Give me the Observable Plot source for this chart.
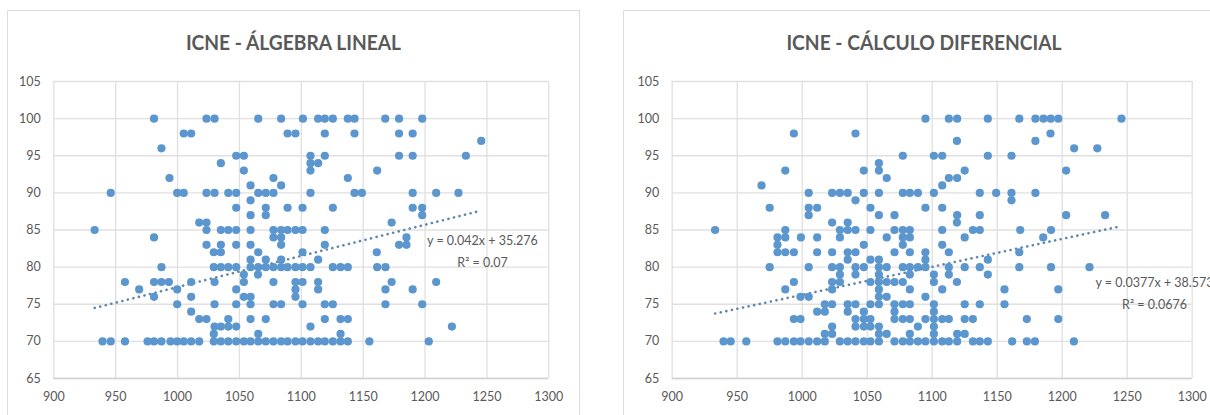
<!DOCTYPE html>
<html lang="es">
<head>
<meta charset="utf-8">
<script src="https://cdn.jsdelivr.net/npm/d3@7"></script>
<script src="https://cdn.jsdelivr.net/npm/@observablehq/plot@0.6"></script>
<style>
html,body{margin:0;padding:0;width:1210px;height:415px;overflow:hidden;background:#fff;}
.card{position:absolute;top:10px;height:420px;box-sizing:border-box;border:1px solid #dcdcdc;background:#fff;}
.card .title{position:absolute;top:18px;left:0;right:0;text-align:center;font:700 21px Lato,sans-serif;color:#595959;white-space:nowrap;transform:scaleX(.915);transform-origin:center;}
.holder{position:absolute;top:0;height:415px;}
.holder svg{display:block;background:transparent;max-width:none !important;}
</style>
</head>
<body>
<div class="card" style="left:7px;width:573px"><div class="title">ICNE - ÁLGEBRA LINEAL</div></div>
<div class="card" style="left:623px;width:602px"><div class="title">ICNE - CÁLCULO DIFERENCIAL</div></div>
<div class="holder" id="a" style="left:0;width:580px"></div>
<div class="holder" id="b" style="left:600px;width:625px"></div>
<script>
const xTicks = [900,950,1000,1050,1100,1150,1200,1250,1300];
const yTicks = [65,70,75,80,85,90,95,100,105];

const algebraRows = [
 [100,[981,1023.4,1029.9,1065.2,1083.7,1101.3,1113.6,1119,1125.5,1137.6,1143,1167.8,1179,1197.7]],
 [98,[1005,1011,1088.9,1095.3,1119,1143,1179,1190]],
 [97,[1245.4]],
 [96,[987]],
 [95,[1047.4,1053.6,1107.4,1119,1179,1190,1233]],
 [94,[1035,1107.4,1113.6]],
 [93,[1053.6,1107.4,1161.3]],
 [92,[993.5,1077.5,1137.6]],
 [91,[1059,1083.7]],
 [90,[946,999.7,1005,1023.4,1029.9,1041,1047.4,1065.2,1071.3,1077.5,1107.4,1143,1149,1190,1209,1227]],
 [89,[1059]],
 [88,[1047.4,1071.3,1088.9,1101,1125.5,1190,1197.7]],
 [87,[1059,1071.3,1197.7]],
 [86,[1017.5,1023.4,1173]],
 [85,[933,1023.4,1035,1041,1047.4,1059,1077.5,1083.7,1088.9,1095.3,1101,1119]],
 [84,[981,1077.5,1083.7,1185]],
 [83,[1023.4,1035,1047.4,1059,1083.7,1119,1179,1185]],
 [82,[1029.3,1035,1065.2,1101,1161]],
 [81,[1059,1071.3,1083.7,1113.6]],
 [80,[987,1029.3,1035,1041,1047.4,1059,1065.2,1071.3,1077.5,1083.7,1088.9,1095.3,1101,1107.4,1125.5,1131.7,1137.6,1161.3,1168]],
 [79,[1053.6,1065]],
 [78,[957.5,981,987,993,1011,1029.9,1053.6,1077.5,1095.3,1101,1113.6,1173,1209]],
 [77,[969,999.7,1047.4,1095.3,1113.6,1168,1190]],
 [76,[981,1011,1053.6,1059,1095.3]],
 [75,[999.7,1029.9,1047.4,1059,1077.5,1083.7,1101,1119,1125.5,1168,1197.7]],
 [74,[1011]],
 [73,[1017.5,1023.4,1041,1059,1071.3,1119,1131.7,1137.6]],
 [72,[1029.9,1035,1041,1047.4,1107.4,1221.7]],
 [71,[1029.3,1065.2,1131.7]],
 [70,[939.4,946,957.5,975.8,981,987,994.3,999.7,1005,1011,1017.5,1029.3,1035,1041,1047.4,1053.6,1059,1065.2,1071.3,1077.5,1083.7,1088.9,1095.3,1101,1107.4,1113.6,1119,1125.5,1131.7,1137.6,1155,1203]]
];

const calculoRows = [
 [100,[1094.8,1112.8,1119.2,1142.8,1167,1179.4,1185.6,1191.2,1197,1245.6]],
 [98,[993.6,1041,1191]],
 [97,[1119,1179.4]],
 [96,[1209.2,1227]],
 [95,[1077.4,1101.3,1107.7,1142.8,1161]],
 [94,[1059]],
 [93,[987,1047.4,1059,1125,1203]],
 [92,[1065,1112.8,1119.2]],
 [91,[968.7,1107.7]],
 [90,[1005,1023,1029,1035,1047.4,1059,1077.4,1082.8,1089,1101.3,1136.6,1149.2,1161,1179.4]],
 [89,[1041,1161]],
 [88,[975,1005,1011.5,1052.5,1094.8,1107.7]],
 [87,[1005,1059,1071,1119.2,1136.6,1203,1233]],
 [86,[1023,1035,1119]],
 [85,[933,987,1029,1035,1041,1052.5,1071,1077.4,1082.8,1107.7,1131.3,1136.6,1167.7,1191.4]],
 [84,[981,987,999,1011.5,1029,1065,1077.4,1082.8,1125,1185.4]],
 [83,[981,1047.4,1077.4,1107.7]],
 [82,[981,987,993.6,1011.5,1023,1035,1041,1071,1082.8,1094.8,1112.8,1167]],
 [81,[1035,1052.5,1059,1094.8,1142.8]],
 [80,[975,1005,1023,1029,1041,1047.4,1059,1065,1077.4,1082.8,1089,1094.8,1112.8,1125,1136.6,1167,1191.4,1221]],
 [79,[1029,1041,1059,1082.8,1101.3,1112.8,1142.8]],
 [78,[993.6,1023,1029,1052.5,1059,1065,1071,1077.4,1101.3,1119]],
 [77,[987,1023,1059,1082.8,1107.7,1155.6,1197]],
 [76,[998.7,1005,1059,1065,1094.8]],
 [75,[1017.4,1023,1035,1041,1052.5,1059,1071,1077.4,1082.8,1101.3,1125,1136.6,1155.6]],
 [74,[1011.5,1017.4,1035,1047.4,1071,1101.3]],
 [73,[993.6,998.7,1041,1047.4,1052.5,1071,1077.4,1082.8,1094.8,1101.3,1107.7,1112.8,1125,1131.3,1172.8,1197]],
 [72,[1023,1041,1047.4,1052.5,1059,1089,1101.3]],
 [71,[1017.4,1023,1059,1065,1082.8,1101.3,1119.2,1125]],
 [70,[939.5,945,957,981,987,993.6,998.7,1005,1011.5,1017.4,1029,1035,1041,1047.4,1052.5,1059,1071,1077.4,1082.8,1089,1094.8,1101.3,1107.7,1112.8,1119.2,1131.3,1136.6,1142.8,1161.5,1172.8,1179,1209]]
];

const algebraTrendX = [933,1245];
const algebraTrendY = [74.5,87.6];
const calculoTrendX = [933,1245];
const calculoTrendY = [73.75,85.5];

const algebraEquation = ["y = 0.042x + 35.276","R² = 0.07"];
const calculoEquation = ["y = 0.0377x + 38.573","R² = 0.0676"];

function points(rows){ return rows.flatMap(([y,xs]) => xs.map(x => ({x,y}))); }

function chart(o){
  const trend = o.trendX.map((x,i) => ({x, y:o.trendY[i]}));
  const labels = o.equation.map((t,i) => ({t, x:o.labelX, y:o.labelY[i]}));
  return Plot.plot({
    width:o.width, height:415,
    marginLeft:o.left, marginRight:o.right, marginTop:81, marginBottom:37,
    style:{fontFamily:"Lato, sans-serif", fontSize:"12.5px", color:"#595959", background:"transparent"},
    x:{domain:[900,1300], label:null},
    y:{domain:[65,105], label:null},
    marks:[
      Plot.ruleX(xTicks,{stroke:"#e0e0e0",strokeWidth:1.3}),
      Plot.ruleY(yTicks,{stroke:"#e0e0e0",strokeWidth:1.3}),
      Plot.ruleY([65],{stroke:"#d2d2d2",strokeWidth:1.4}),
      Plot.line(trend,{x:"x",y:"y",stroke:"#5f87ab",strokeWidth:2.6,strokeDasharray:"0.1 5.6",strokeLinecap:"round"}),
      Plot.dot(points(o.rows),{x:"x",y:"y",r:4.1,fill:"#5b96cf",stroke:"none"}),
      Plot.text(labels,{x:"x",y:"y",text:"t",fill:"#595959",fontSize:12.5,textAnchor:"middle",clip:false}),
      Plot.axisX({ticks:xTicks,tickSize:0,tickPadding:14,tickFormat:d=>String(d),label:null,fill:"#595959"}),
      Plot.axisY({ticks:yTicks,tickSize:0,tickPadding:13,label:null,fill:"#595959"})
    ]
  });
}

document.getElementById("a").append(chart({
  width:580,left:53.3,right:31.7,rows:algebraRows,trendX:algebraTrendX,trendY:algebraTrendY,
  equation:algebraEquation,labelX:1246.4,labelY:[83.5,80.6]
}));
document.getElementById("b").append(chart({
  width:625,left:71.7,right:33.3,rows:calculoRows,trendX:calculoTrendX,trendY:calculoTrendY,
  equation:calculoEquation,labelX:1271,labelY:[77.9,74.9]
}));
</script>
</body>
</html>
